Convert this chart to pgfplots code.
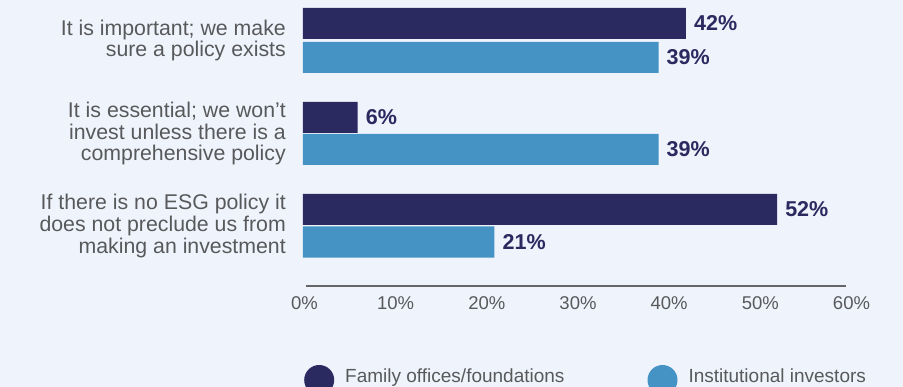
\documentclass[border=0pt]{standalone}
\usepackage{fontspec}
\setmainfont{Liberation Sans}
\usepackage{pgfplots}
\pgfplotsset{compat=1.18}
\definecolor{bg}{HTML}{EFF3FB}
\definecolor{navy}{HTML}{2A2960}
\definecolor{lblue}{HTML}{4593C4}
\definecolor{txt}{HTML}{58595B}
\begin{document}
\begin{tikzpicture}[x=1pt,y=1pt]
\useasboundingbox (0,0) rectangle (903,-387);
\fill[bg] (0,0) rectangle (903,-387);
\begin{axis}[
  at={(303pt,0pt)}, anchor=north west,
  scale only axis, width=547pt, height=286pt,
  xmin=0, xmax=60, ymin=-286, ymax=0,
  axis line style={draw=none}, tick style={draw=none}, major tick length=0pt,
  /pgf/number format/assume math mode=true,
  xtick={0,10,...,60},
  xticklabel={\pgfmathprintnumber{\tick}\%},
  xticklabel style={font=\fontsize{18.5}{22}\selectfont, text=txt, inner sep=0pt, yshift=-10pt, xshift=1.5pt},
  ytick={-40.5,-133.5,-226},
  yticklabels={{It is important; we make\\sure a policy exists},
               {It is essential; we won’t\\invest unless there is a\\comprehensive policy},
               {If there is no ESG policy it\\does not preclude us from\\making an investment}},
  yticklabel style={align=right, font=\fontsize{21.3}{21.7}\selectfont, text=txt, inner sep=0pt, xshift=-17pt},
  xbar, bar width=31, bar shift=0pt,
  point meta=x,
  nodes near coords={\pgfmathprintnumber{\pgfplotspointmeta}\%},
  every node near coord/.append style={font=\bfseries\fontsize{21.5}{24}\selectfont, text=navy, anchor=west, inner sep=0pt, xshift=8pt},
  clip=false,
  legend columns=2,
  legend style={draw=none, fill=none, at={(axis cs:0.11,-376)}, anchor=west,
    inner sep=0pt, font=\fontsize{19}{22}\selectfont, text=txt,
    nodes={inner sep=0pt, anchor=center},
    /tikz/every even column/.append style={column sep=83pt}},
]
\addplot[fill=navy, draw=none,
  legend image code/.code={\path[draw=none,fill=none] (0pt,-20pt) rectangle (41pt,20pt); \fill[navy] (15pt,-4pt) circle (15pt);}]
  coordinates {(42,-23.5) (6,-117.5) (52,-209.5)};
\addlegendentry{Family offices/foundations}
\addplot[fill=lblue, draw=none,
  legend image code/.code={\path[draw=none,fill=none] (0pt,-20pt) rectangle (41pt,20pt); \fill[lblue] (15pt,-4pt) circle (15pt);}]
  coordinates {(39,-57.5) (39,-149.5) (21,-242)};
\addlegendentry{Institutional investors}
\draw[black!60, line width=1.2pt] (axis cs:0.3,-286) -- (axis cs:59.6,-286);
\end{axis}
\end{tikzpicture}
\end{document}
